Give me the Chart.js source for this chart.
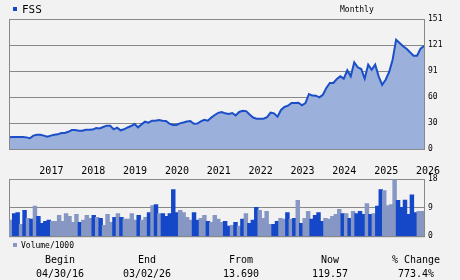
<!DOCTYPE html>
<html>
<head>
<meta charset="utf-8">
<script src="https://cdn.jsdelivr.net/npm/chart.js@4/dist/chart.umd.min.js"></script>
<style>
  body { margin: 0; background: #f2f2f2; }
  #wrap { position: relative; width: 460px; height: 280px; overflow: hidden; }
  canvas { position: absolute; left: 0; }
  .t { position: absolute; font: 10px "DejaVu Sans Mono", monospace; color: #000; white-space: nowrap; transform: translate(-50%, -50%); }
  .s { font-size: 8px; transform: translate(0, -50%); }
  .sq { position: absolute; width: 4px; height: 4px; }
</style>
</head>
<body>
<div id="wrap">
  <canvas id="price" width="460" height="180" style="top:0"></canvas>
  <canvas id="volume" width="460" height="75" style="top:170px"></canvas>
  <div class="sq" style="left:13px;top:7px;background:#1448c8"></div>
  <div class="t" style="left:22px;top:9px;transform:translate(0,-50%);font-size:11px">FSS</div>
  <div class="t s" style="left:340px;top:9px">Monthly</div>
  <div class="sq" style="left:13px;top:243px;background:#8797c4"></div>
  <div class="t s" style="left:21px;top:245px">Volume/1000</div>
</div>
<script>
// monthly closes, Apr 2016 .. Mar 2026
const closes = [
    13.7, 13.8, 13.8, 13.8, 13.8, 13.5, 12.5, 15.5, 16.6, 16.6, 15.5, 14.3,
    15.5, 16.6, 17.0, 18.6, 18.6, 20.0, 22.0, 22.0, 21.3, 21.3, 22.4, 22.4,
    22.6, 24.4, 23.8, 25.5, 27.1, 27.1, 22.9, 24.8, 21.7, 22.9, 25.0, 26.7,
    29.0, 25.2, 28.6, 31.7, 30.6, 32.9, 32.9, 33.7, 32.9, 32.5, 29.5, 27.9,
    27.9, 29.8, 30.8, 32.0, 32.5, 29.4, 29.6, 32.0, 34.0, 32.9, 36.5, 39.5,
    42.0, 43.0, 41.4, 40.7, 41.8, 39.0, 43.0, 44.5, 44.0, 40.0, 36.5, 35.2,
    35.2, 35.2, 37.0, 42.2, 41.4, 37.5, 45.3, 48.8, 50.3, 53.4, 53.4, 53.8,
    50.7, 53.4, 63.9, 62.0, 61.9, 60.0, 63.0, 70.8, 76.7, 76.7, 81.3, 84.4,
    81.7, 91.4, 84.4, 100.7, 94.9, 92.9, 81.7, 98.0, 92.1, 98.0, 84.4, 74.5,
    80.5, 89.4, 103.7, 127.0, 123.1, 119.3, 116.5, 112.3, 108.4, 108.4, 116.5, 119.57
];
// volume in thousands
const volumes = [
    5.0, 7.1, 7.4, 3.7, 8.1, 5.6, 5.3, 9.4, 6.2, 4.0, 4.65, 5.0,
    4.65, 4.65, 6.5, 4.65, 7.1, 6.2, 4.3, 6.8, 4.3, 5.0, 6.5, 5.6,
    6.5, 5.9, 5.6, 3.4, 6.8, 4.3, 5.9, 7.1, 5.9, 5.3, 5.3, 7.1,
    5.0, 6.5, 5.0, 5.9, 7.4, 9.6, 9.9, 7.1, 7.1, 6.2, 7.1, 14.6,
    7.4, 8.1, 7.4, 5.9, 5.0, 7.4, 5.0, 5.6, 6.5, 4.65, 4.3, 6.5,
    5.3, 4.3, 4.65, 3.1, 3.4, 4.3, 3.1, 5.3, 7.1, 4.0, 5.0, 9.0,
    8.1, 5.6, 7.8, 3.7, 3.7, 4.65, 5.6, 5.3, 7.4, 5.3, 5.6, 11.2,
    4.0, 5.6, 7.8, 5.3, 6.5, 7.4, 4.65, 5.6, 5.3, 6.2, 6.8, 8.4,
    7.1, 7.1, 5.6, 7.8, 7.1, 7.8, 6.8, 10.2, 6.8, 7.1, 9.4, 14.6,
    14.3, 9.6, 9.9, 17.7, 11.2, 9.0, 11.3, 6.8, 13.0, 7.4, 7.8, 7.8
];
// 1 = up month (dark bar), 0 = down month (light bar)
const volUp = [
    0, 1, 1, 0, 1, 0, 1, 0, 1, 1, 1, 1,
    0, 0, 0, 0, 0, 0, 0, 0, 1, 0, 0, 0,
    1, 0, 1, 0, 0, 0, 1, 0, 1, 0, 0, 0,
    0, 1, 0, 0, 1, 0, 1, 0, 1, 1, 1, 1,
    1, 0, 0, 0, 0, 1, 1, 0, 0, 1, 0, 0,
    0, 0, 1, 1, 0, 1, 0, 1, 0, 1, 1, 1,
    0, 0, 0, 0, 1, 1, 0, 0, 1, 0, 1, 0,
    1, 0, 0, 1, 1, 1, 1, 0, 0, 0, 0, 0,
    1, 0, 1, 0, 1, 1, 1, 0, 1, 0, 1, 1,
    0, 0, 0, 0, 1, 1, 1, 1, 1, 1, 0, 0
];
const priceTicks = [0, 30.2, 60.4, 90.6, 120.8, 151];
const volumeTicks = [0, 9, 18];
const summaryHeads = ['Begin', 'End', 'From', 'Now', '% Change'];
const summaryValues = ['04/30/16', '03/02/26', '13.690', '119.57', '773.4%'];

const startYear = 2016, startMonth = 4;
let months = [];
for (let i = 0; i < closes.length; i++) {
    const m = startMonth - 1 + i;
    months.push(startYear + Math.floor(m / 12) + '-' + String(m % 12 + 1).padStart(2, '0'));
}

const mono8 = { family: 'DejaVu Sans Mono', size: 8 };
const mono10 = { family: 'DejaVu Sans Mono', size: 10 };

function frame(over) {
    const draw = chart => {
        const a = chart.chartArea, ctx = chart.ctx;
        ctx.save();
        ctx.strokeStyle = '#888';
        ctx.lineWidth = 1;
        ctx.strokeRect(a.left + 0.5, a.top + 0.5, a.right - a.left, a.bottom - a.top);
        ctx.restore();
    };
    return over ? { id: 'frameOver', afterDatasetsDraw: draw } : { id: 'frameUnder', beforeDatasetsDraw: draw };
}

function rightAxis(max, ticks) {
    return {
        position: 'right',
        min: 0,
        max: max,
        afterBuildTicks: s => { s.ticks = ticks.map(v => ({ value: v })); },
        afterFit: s => { s.width = 36; },
        grid: { color: '#888', drawTicks: false },
        border: { display: false },
        ticks: { padding: 4, font: mono8, color: '#000', callback: v => Math.round(v) }
    };
}

new Chart(document.getElementById('price'), {
    type: 'line',
    data: {
        labels: months,
        datasets: [{
            data: closes,
            borderColor: '#1a4fc8',
            borderWidth: 2,
            backgroundColor: '#9cb0dc',
            fill: 'origin',
            pointRadius: 0,
            tension: 0
        }]
    },
    options: {
        responsive: false,
        animation: false,
        events: [],
        layout: { padding: { left: 9, top: 19, right: 0, bottom: 0 } },
        plugins: { legend: { display: false }, tooltip: { enabled: false } },
        scales: {
            x: {
                offset: false,
                grid: { display: false, drawTicks: true, tickLength: 14 },
                border: { display: false },
                afterFit: s => { s.height = 31; },
                ticks: {
                    autoSkip: false,
                    maxRotation: 0,
                    padding: 2,
                    labelOffset: 11,
                    font: mono10,
                    color: '#000',
                    callback: (v, i) => months[i].endsWith('-01') ? months[i].slice(0, 4) : ''
                }
            },
            y: rightAxis(151, priceTicks)
        }
    },
    plugins: [frame(true)]
});

new Chart(document.getElementById('volume'), {
    type: 'bar',
    data: {
        labels: months,
        datasets: [{
            data: volumes,
            backgroundColor: volUp.map(u => u ? '#1448c8' : '#8797c4'),
            barPercentage: 1,
            categoryPercentage: 1,
            inflateAmount: 0.5
        }]
    },
    options: {
        responsive: false,
        animation: false,
        events: [],
        layout: { padding: { left: 9, top: 9, right: 0, bottom: 7 } },
        plugins: { legend: { display: false }, tooltip: { enabled: false } },
        scales: {
            x: { display: false, offset: true },
            y: rightAxis(18, volumeTicks)
        }
    },
    plugins: [frame(false)]
});

const summaryX = [60, 147, 241, 330, 416];
const wrap = document.getElementById('wrap');
summaryHeads.forEach((h, i) => {
    [[h, 259], [summaryValues[i], 273]].forEach(([txt, y]) => {
        const d = document.createElement('div');
        d.className = 't';
        d.style.left = summaryX[i] + 'px';
        d.style.top = y + 'px';
        d.textContent = txt;
        wrap.appendChild(d);
    });
});
</script>
</body>
</html>
